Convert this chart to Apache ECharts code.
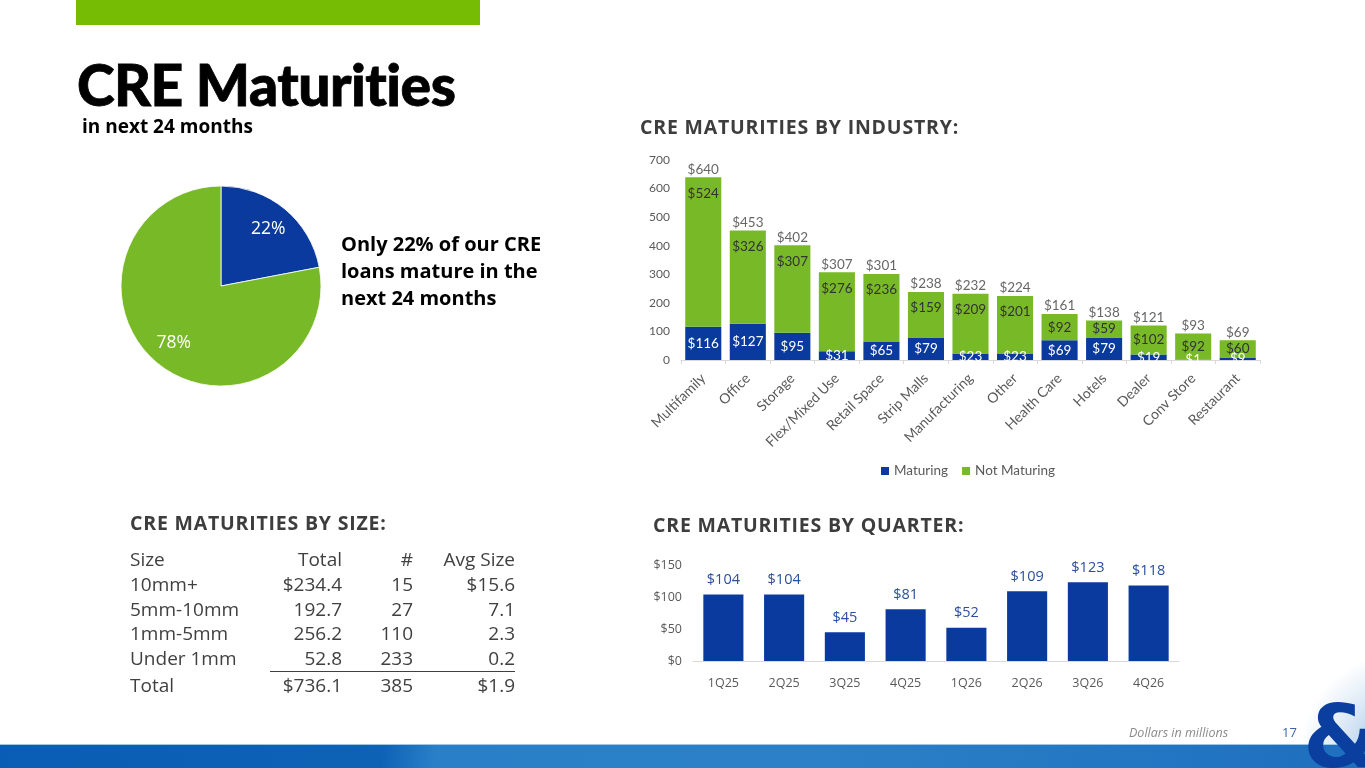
<!DOCTYPE html>
<html>
<head>
<meta charset="utf-8">
<script src="https://cdn.jsdelivr.net/npm/echarts@6/dist/echarts.min.js"></script>
<style>
  html, body { margin:0; padding:0; width:1365px; height:768px; overflow:hidden; background:#fff; }
  #page { position:relative; width:1365px; height:768px; overflow:hidden; font-family: Lato, "Open Sans", sans-serif; }
  #chart { position:absolute; left:0; top:0; width:1365px; height:768px; }
  .txt { position:absolute; white-space:nowrap; }
  #topbar { position:absolute; left:76px; top:0; width:404px; height:25px; background:#76BC04; }
  #title { left:77px; top:51px; font-size:57px; font-weight:900; color:#000; letter-spacing:-0.5px; line-height:66px; -webkit-text-stroke:0.8px #000; }
  #subtitle { left:82px; top:113px; font-family:"Open Sans", sans-serif; font-size:19px; font-weight:700; color:#000; }
  #pieText { left:341px; top:230px; font-family:"Open Sans", sans-serif; font-size:20px; font-weight:700; color:#000; line-height:27px; }
  .head { font-family:"Open Sans", sans-serif; font-size:19.5px; font-weight:700; color:#3d3d3d; letter-spacing:0.8px; }
  #hInd { left:640px; top:113px; }
  #hSize { left:130px; top:509px; }
  #hQ { left:653px; top:511px; }
  #sizeTable { position:absolute; left:130px; top:547px; border-collapse:collapse; font-family:"Open Sans", sans-serif; font-size:19px; color:#404040; }
  #sizeTable td { padding:0; height:24.8px; line-height:24.8px; }
  #sizeTable td.r { text-align:right; }
  #sizeTable tr.tot td { border-top:1px solid #404040; height:26.5px; }
  #sizeTable tr.tot td.first { border-top:none; }
  #footNote { left:1129px; top:724px; font-family:"Open Sans", sans-serif; font-style:italic; font-size:12.5px; color:#8a8a8a; }
  #pageNum { left:1282px; top:723px; font-family:"Open Sans", sans-serif; font-size:13px; color:#3a64a8; }
  #band { position:absolute; left:0; top:745px; width:1365px; height:23px;
    background: linear-gradient(100deg, #0a5db4 0%, #0d62b6 28%, #2a80c8 32%, #2b80c7 60%, #2478c3 80%, #1e6fbf 100%); }
  #bandLine { position:absolute; left:0; top:744px; width:1365px; height:1px; background:#9cc7e6; }
  #swoosh { position:absolute; left:1290px; top:660px; width:160px; height:160px; border-radius:50%;
    background: radial-gradient(circle at 70% 60%, rgba(60,130,200,0.55) 0%, rgba(120,170,220,0.25) 45%, rgba(255,255,255,0) 70%); }
  #amp { left:1303px; top:692px; font-family:"DejaVu Sans", sans-serif; font-weight:700; font-size:88px; color:#0a3f9f; line-height:90px; }
</style>
</head>
<body>
<div id="page">
  <div id="topbar"></div>
  <div id="swoosh"></div>
  <div id="bandLine"></div>
  <div id="band"></div>
  <div class="txt" id="amp">&amp;</div>
  <div id="chart"></div>
  <div class="txt" id="title">CRE Maturities</div>
  <div class="txt" id="subtitle">in next 24 months</div>
  <div class="txt" id="pieText">Only 22% of our CRE<br>loans mature in the<br>next 24 months</div>
  <div class="txt head" id="hInd">CRE MATURITIES BY INDUSTRY:</div>
  <div class="txt head" id="hSize">CRE MATURITIES BY SIZE:</div>
  <div class="txt head" id="hQ">CRE MATURITIES BY QUARTER:</div>
  <table id="sizeTable"></table>
  <div class="txt" id="footNote">Dollars in millions</div>
  <div class="txt" id="pageNum">17</div>
</div>
<script>
// ---------- DATA ----------
const pieNames = ['Maturing', 'Not Maturing'];
const pieValues = [22, 78];

const industries = ['Multifamily','Office','Storage','Flex/Mixed Use','Retail Space','Strip Malls','Manufacturing','Other','Health Care','Hotels','Dealer','Conv Store','Restaurant'];
const maturing    = [116, 127, 95, 31, 65, 79, 23, 23, 69, 79, 19, 1, 9];
const notMaturing = [524, 326, 307, 276, 236, 159, 209, 201, 92, 59, 102, 92, 60];
const industryTotals = [640, 453, 402, 307, 301, 238, 232, 224, 161, 138, 121, 93, 69];

const quarters = ['1Q25','2Q25','3Q25','4Q25','1Q26','2Q26','3Q26','4Q26'];
const quarterValues = [104, 104, 45, 81, 52, 109, 123, 118];

const sizeHeader = ['Size', 'Total', '#', 'Avg Size'];
const sizeLabels = ['10mm+', '5mm-10mm', '1mm-5mm', 'Under 1mm'];
const sizeTotals = ['$234.4', '192.7', '256.2', '52.8'];
const sizeCounts = ['15', '27', '110', '233'];
const sizeAvgs   = ['$15.6', '7.1', '2.3', '0.2'];
const sizeTotalRow = ['Total', '$736.1', '385', '$1.9'];

// ---------- TABLE ----------
(function buildTable(){
  const widths = [140, 72, 71, 102];
  const t = document.getElementById('sizeTable');
  let html = '<colgroup>' + widths.map(w => '<col style="width:' + w + 'px">').join('') + '</colgroup>';
  const row = (cells, cls) => '<tr' + (cls ? ' class="' + cls + '"' : '') + '>' +
    cells.map((c, i) => '<td class="' + (i === 0 ? 'first' : 'r') + '">' + c + '</td>').join('') + '</tr>';
  html += row(sizeHeader);
  for (let i = 0; i < sizeLabels.length; i++) html += row([sizeLabels[i], sizeTotals[i], sizeCounts[i], sizeAvgs[i]]);
  html += row(sizeTotalRow, 'tot');
  t.innerHTML = html;
})();

// ---------- CHART ----------
const BLUE = '#0a3a9e';
const GREEN = '#78b928';
const GREY = '#595959';
const chart = echarts.init(document.getElementById('chart'), null, { renderer: 'canvas' });

const option = {
  animation: false,
  color: [BLUE, GREEN],
  textStyle: { fontFamily: 'Lato, "Open Sans", sans-serif' },
  legend: {
    data: ['Maturing', 'Not Maturing'],
    left: 876, top: 459,
    itemWidth: 8, itemHeight: 8, itemGap: 14, icon: 'rect',
    textStyle: { color: GREY, fontSize: 13.5, fontFamily: 'Lato, sans-serif' }
  },
  grid: [
    { left: 681, top: 160, width: 579, height: 200, containLabel: false, outerBoundsMode: 'none' },
    { left: 693, top: 565, width: 486, height: 96, containLabel: false, outerBoundsMode: 'none' }
  ],
  xAxis: [
    {
      gridIndex: 0, type: 'category', data: industries,
      axisLine: { lineStyle: { color: '#d9d9d9' } },
      axisTick: { show: true, length: 4, lineStyle: { color: '#d9d9d9' } },
      axisLabel: { interval: 0, rotate: 45, color: GREY, fontSize: 14, margin: 16, fontFamily: 'Lato, sans-serif' }
    },
    {
      gridIndex: 1, type: 'category', data: quarters,
      axisLine: { lineStyle: { color: '#d9d9d9' } },
      axisTick: { show: false },
      axisLabel: { color: GREY, fontSize: 12.5, margin: 16, fontFamily: '"Open Sans", sans-serif' }
    }
  ],
  yAxis: [
    {
      gridIndex: 0, type: 'value', min: 0, max: 700, interval: 100,
      axisLine: { show: false }, axisTick: { show: false }, splitLine: { show: false },
      axisLabel: { color: GREY, fontSize: 12, margin: 11, fontFamily: 'Lato, sans-serif' }
    },
    {
      gridIndex: 1, type: 'value', min: 0, max: 150, interval: 50,
      axisLine: { show: false }, axisTick: { show: false }, splitLine: { show: false },
      axisLabel: { color: GREY, fontSize: 12.5, margin: 11, formatter: v => '$' + v, fontFamily: '"Open Sans", sans-serif' }
    }
  ],
  series: [
    {
      type: 'pie', name: 'pie', center: [221, 286], radius: [0, 100], startAngle: 90, clockwise: true,
      silent: true, label: { show: false }, labelLine: { show: false },
      itemStyle: { borderColor: '#fff', borderWidth: 0.8 },
      data: pieNames.map((n, i) => ({ name: n, value: pieValues[i], itemStyle: { color: i === 0 ? BLUE : GREEN } }))
    },
    {
      type: 'pie', name: 'pieLabels', center: [221, 286], radius: [42, 100], startAngle: 90, clockwise: true,
      silent: true, labelLine: { show: false },
      itemStyle: { color: 'rgba(0,0,0,0)' },
      label: { show: true, position: 'inside', color: '#fff', fontSize: 17.5, fontFamily: '"Open Sans", sans-serif', formatter: p => p.value + '%' },
      data: pieNames.map((n, i) => ({ name: n + ' ', value: pieValues[i] }))
    },
    {
      name: 'Maturing', type: 'bar', stack: 'ind', xAxisIndex: 0, yAxisIndex: 0,
      barCategoryGap: '19%', data: maturing,
      itemStyle: { color: BLUE },
      label: { show: true, position: 'inside', color: '#fff', fontSize: 13.5, formatter: p => '$' + p.value, fontFamily: 'Lato, sans-serif' }
    },
    {
      name: 'Not Maturing', type: 'bar', stack: 'ind', xAxisIndex: 0, yAxisIndex: 0,
      barCategoryGap: '19%',
      data: notMaturing.map(v => ({
        value: v,
        label: v < 110 ? { position: 'inside' } : { position: 'insideTop', distance: 9 }
      })),
      itemStyle: { color: GREEN },
      label: { show: true, color: '#333', fontSize: 13.5, formatter: p => '$' + p.value, fontFamily: 'Lato, sans-serif' }
    },
    {
      type: 'scatter', name: 'totals', xAxisIndex: 0, yAxisIndex: 0,
      data: industryTotals, symbolSize: 0, silent: true,
      label: { show: true, position: 'top', distance: 1, color: '#404040', fontSize: 13.5, formatter: p => '$' + p.value, fontFamily: 'Lato, sans-serif' }
    },
    {
      type: 'bar', name: 'quarter', xAxisIndex: 1, yAxisIndex: 1,
      barCategoryGap: '34%', data: quarterValues,
      itemStyle: { color: BLUE },
      label: { show: true, position: 'top', distance: 7, color: '#2a4f9f', fontSize: 14.5, formatter: p => '$' + p.value, fontFamily: '"Open Sans", sans-serif' }
    }
  ]
};
chart.setOption(option);
</script>
</body>
</html>
